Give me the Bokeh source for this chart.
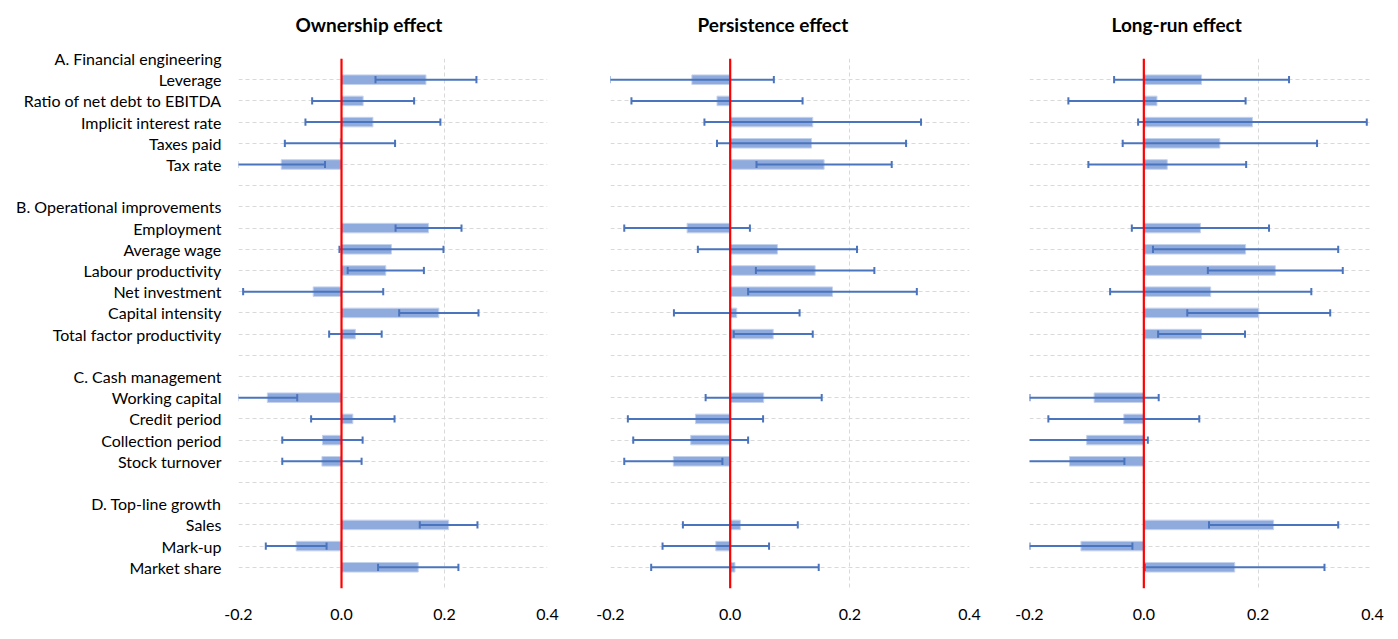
import numpy as np
from bokeh.plotting import figure
from bokeh.models import Range1d, FixedTicker, Span, Title, NumeralTickFormatter
from bokeh.layouts import row
from bokeh.embed import file_html
from bokeh.resources import INLINE

panel_titles = ["Ownership effect", "Persistence effect", "Long-run effect"]
group_names = ["A. Financial engineering", "B. Operational improvements",
               "C. Cash management", "D. Top-line growth"]
group_items = [
    ["Leverage", "Ratio of net debt to EBITDA", "Implicit interest rate", "Taxes paid", "Tax rate"],
    ["Employment", "Average wage", "Labour productivity", "Net investment",
     "Capital intensity", "Total factor productivity"],
    ["Working capital", "Credit period", "Collection period", "Stock turnover"],
    ["Sales", "Mark-up", "Market share"],
]
x_ticks = [-0.2, 0.0, 0.2, 0.4]

ownership_value = [0.164, 0.042, 0.061, -0.003, -0.117,
                   0.169, 0.097, 0.086, -0.055, 0.189, 0.027,
                   -0.144, 0.022, -0.037, -0.038,
                   0.208, -0.088, 0.149]
ownership_error = [0.098, 0.099, 0.131, 0.107, 0.085,
                   0.064, 0.101, 0.074, 0.136, 0.077, 0.051,
                   0.058, 0.081, 0.078, 0.077,
                   0.056, 0.059, 0.078]
persistence_value = [-0.064, -0.022, 0.138, 0.136, 0.157,
                     -0.072, 0.079, 0.142, 0.171, 0.011, 0.072,
                     0.056, -0.058, -0.066, -0.095,
                     0.017, -0.024, 0.008]
persistence_error = [0.137, 0.143, 0.181, 0.158, 0.113,
                     0.105, 0.133, 0.099, 0.141, 0.105, 0.066,
                     0.097, 0.113, 0.096, 0.082,
                     0.096, 0.089, 0.140]
longrun_value = [0.101, 0.023, 0.190, 0.133, 0.041,
                 0.099, 0.178, 0.230, 0.117, 0.201, 0.101,
                 -0.087, -0.035, -0.100, -0.130,
                 0.227, -0.110, 0.159]
longrun_error = [0.153, 0.155, 0.200, 0.170, 0.138,
                 0.120, 0.162, 0.118, 0.176, 0.125, 0.076,
                 0.113, 0.132, 0.107, 0.096,
                 0.113, 0.090, 0.157]

# ---- row structure (header rows, item rows, blank separator rows) ----
labels = []
item_pos = []
for gi, (g, items) in enumerate(zip(group_names, group_items)):
    labels.append(g)
    for it in items:
        item_pos.append(len(labels))
        labels.append(it)
    if gi < len(group_names) - 1:
        labels.append("")
n_rows = len(labels)
item_pos = np.array(item_pos, dtype=float)

LABEL_FONT = "Lato"
BAR_FILL = "#8FAADC"
BAR_LINE = "#C5D3EC"
ERR_COLOR = "#4A74BD"
GRID_COLOR = "#D9D9D9"

panels = [
    (panel_titles[0], ownership_value, ownership_error),
    (panel_titles[1], persistence_value, persistence_error),
    (panel_titles[2], longrun_value, longrun_error),
]
# (fig width, min_border_left, min_border_right, title left offset from frame left)
geom = [(565, 238, 18, 57), (435, 45, 31, 87), (398, 29, 26, 82)]

figs = []
for k, ((title, vals, errs), (w, bl, br, toff)) in enumerate(zip(panels, geom)):
    p = figure(width=w, height=635, output_backend="svg", toolbar_location=None,
               x_range=Range1d(x_ticks[0], x_ticks[-1]),
               y_range=Range1d(n_rows, 0),
               min_border_left=bl, min_border_right=br,
               min_border_top=58, min_border_bottom=47)
    p.outline_line_color = None
    p.background_fill_color = "white"
    p.border_fill_color = "white"

    # x axis
    p.xaxis.ticker = FixedTicker(ticks=x_ticks)
    p.xaxis.formatter = NumeralTickFormatter(format="0.0")
    p.xaxis.axis_line_color = None
    p.xaxis.major_tick_line_color = None
    p.xaxis.minor_tick_line_color = None
    p.xaxis.major_label_text_font = LABEL_FONT
    p.xaxis.major_label_text_font_size = "16px"
    p.xaxis.major_label_text_color = "black"
    p.xaxis.major_label_standoff = 14

    # y axis
    yt = FixedTicker(ticks=list(range(n_rows + 1)))
    p.yaxis.ticker = yt
    p.yaxis.major_label_overrides = {i: lab for i, lab in enumerate(labels)} | {n_rows: ""}
    p.yaxis.axis_line_color = None
    p.yaxis.major_tick_line_color = None
    p.yaxis.minor_tick_line_color = None
    p.yaxis.major_label_text_font = LABEL_FONT
    p.yaxis.major_label_text_font_size = "16px"
    p.yaxis.major_label_text_color = "black"
    p.yaxis.major_label_standoff = 11
    if k > 0:
        p.yaxis.visible = False
    p.ygrid.ticker = yt

    for gr in (p.xgrid, p.ygrid):
        gr.grid_line_color = GRID_COLOR
        gr.grid_line_dash = "4 3"
        gr.grid_line_width = 1

    v = np.array(vals)
    e = np.array(errs)
    lo = v - e
    hi = v + e

    p.hbar(y=item_pos, left=0, right=v, height=0.45,
           fill_color=BAR_FILL, line_color=BAR_LINE, line_width=1)
    p.segment(x0=lo, y0=item_pos, x1=hi, y1=item_pos,
              line_color=ERR_COLOR, line_width=2)
    cap = 0.17
    p.segment(x0=lo, y0=item_pos - cap, x1=lo, y1=item_pos + cap,
              line_color=ERR_COLOR, line_width=2)
    p.segment(x0=hi, y0=item_pos - cap, x1=hi, y1=item_pos + cap,
              line_color=ERR_COLOR, line_width=2)

    p.add_layout(Span(location=0, dimension="height", line_color="#FF0000", line_width=2.2))

    # spacer panel next to the frame, then the visible title above it
    p.add_layout(Title(text=" ", text_font_size="1px", standoff=8), "above")
    p.add_layout(Title(text=title, align="left", offset=toff,
                       text_font=LABEL_FONT, text_font_style="bold",
                       text_font_size="19px", text_color="black",
                       vertical_align="top", standoff=20), "above")
    figs.append(p)

layout = row(*figs, spacing=0)
open("out.html", "w").write(file_html(layout, INLINE))
